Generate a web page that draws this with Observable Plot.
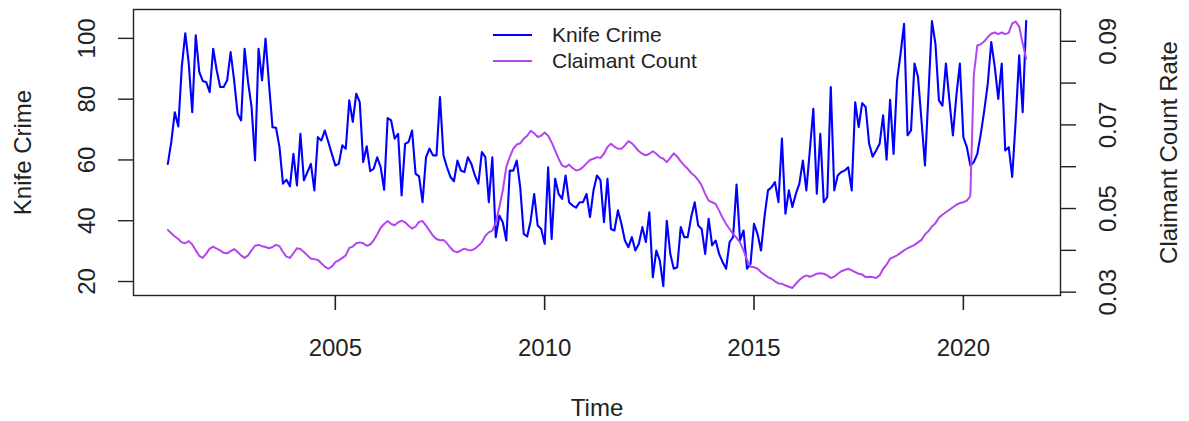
<!DOCTYPE html>
<html>
<head>
<meta charset="utf-8">
<script src="https://cdn.jsdelivr.net/npm/d3@7"></script>
<script src="https://cdn.jsdelivr.net/npm/@observablehq/plot@0.6"></script>
<style>
  html, body { margin: 0; padding: 0; background: #fff; }
  #wrap { position: relative; width: 1189px; height: 421px; font-family: "Liberation Sans", Arial, sans-serif; }
  #legend { position: absolute; left: 493px; top: 22px; font-size: 21px; color: #222; line-height: 26px; }
  #legend .row { display: flex; align-items: center; height: 26px; }
  #legend .sw { width: 39px; height: 2px; margin-right: 20px; }
</style>
</head>
<body>
<div id="wrap"><div id="legend"></div></div>
<script>
// ---- data (monthly, Jan 2001 .. Jul 2021) ----
const startYear = 2001;
const seriesNames = ["Knife Crime", "Claimant Count"];
const seriesColors = ["#0000FF", "#B445EE"];
const knifeCrime = [
  58.7, 66, 75.7, 71, 90.6, 101.7, 91.7, 75.7, 101, 89,
  86, 85.6, 82.3, 96.6, 89.5, 84, 84, 86.2, 95.5, 86.2,
  75.2, 73, 96.6, 85.6, 77.4, 59.8, 96.6, 86.2, 99.9, 85,
  70.8, 70.6, 64.2, 52.2, 53.5, 51.3, 62, 51.6, 68.6, 53.3,
  56, 58.7, 50, 67.5, 66.4, 69.7, 65.9, 62, 58.2, 58.7,
  64.8, 63.7, 79.6, 72.5, 81.8, 79, 59.3, 64.5, 56.3, 57.1,
  60.9, 57.6, 50.2, 73.8, 73, 67, 68.6, 48.3, 65.3, 65.9,
  69.7, 55.5, 54.6, 46.1, 60.9, 63.7, 61.5, 61.5, 80.7, 61.5,
  57.6, 54.4, 53, 59.8, 56.5, 56, 60.9, 58.7, 54.9, 52.2,
  62.6, 60.9, 46.1, 60.9, 34.6, 41.7, 39.5, 33.5, 56.5, 56.5,
  59.8, 51, 35.7, 34.8, 40, 48.8, 38.4, 37.3, 32.4, 57.6,
  34, 53.8, 48.8, 47.2, 54.9, 46.1, 45, 44.3, 46.1, 46.1,
  48.8, 41.2, 50, 54.9, 53.3, 39.5, 53.8, 37.3, 36.8, 43.4,
  39, 33.5, 31.3, 34.6, 30.2, 32.4, 37.9, 33, 42.8, 21.4,
  30.2, 26.9, 18.5, 40, 29.1, 24.2, 24.7, 37.9, 34.6, 34.6,
  41.2, 46.1, 38.4, 37.3, 29.1, 40.6, 31.9, 33.5, 29.1, 26.4,
  24.2, 33, 34.6, 51.9, 33.5, 36.8, 24.2, 25.8, 39, 35.7,
  30.2, 41.2, 50, 51, 52.7, 46.1, 67, 42.3, 50, 44.5,
  48.9, 52.2, 59.8, 50, 63.1, 76.8, 48.9, 68.6, 46.1, 47.8,
  84, 50, 54.9, 56, 56.5, 57.6, 50, 79, 70.8, 78.7,
  77.4, 65.3, 61.1, 63.1, 65.3, 74.7, 60.1, 79.8, 62, 86.2,
  94.9, 104.8, 68.1, 69.7, 91.7, 87.3, 73, 58.2, 81.8, 105.7,
  98.2, 79.6, 77.9, 91.7, 79.6, 68.1, 81.2, 91.7, 67.5, 64.2,
  58.2, 59.3, 62, 68.6, 76.3, 85.1, 98.8, 90.6, 80.1, 91.7,
  63.1, 64.2, 54.4, 73, 94.4, 75.7, 105.7
];
const claimantRate = [
  0.0449, 0.0441, 0.0433, 0.0427, 0.0419, 0.0417, 0.0422, 0.0414, 0.0400, 0.0387,
  0.0382, 0.0392, 0.0404, 0.0409, 0.0404, 0.0400, 0.0394, 0.0393, 0.0398, 0.0403,
  0.0396, 0.0388, 0.0382, 0.0388, 0.0400, 0.0411, 0.0413, 0.0410, 0.0408, 0.0405,
  0.0408, 0.0413, 0.0410, 0.0396, 0.0385, 0.0382, 0.0393, 0.0405, 0.0403, 0.0396,
  0.0388, 0.0380, 0.0379, 0.0377, 0.0369, 0.0361, 0.0356, 0.0361, 0.0372, 0.0376,
  0.0382, 0.0388, 0.0406, 0.0409, 0.0417, 0.0419, 0.0417, 0.0411, 0.0414, 0.0424,
  0.0438, 0.0454, 0.0463, 0.0470, 0.0463, 0.0460, 0.0467, 0.0471, 0.0467, 0.0459,
  0.0452, 0.0457, 0.0468, 0.0470, 0.0459, 0.0447, 0.0435, 0.0427, 0.0424, 0.0425,
  0.0417, 0.0406, 0.0398, 0.0395, 0.0400, 0.0404, 0.0401, 0.0400, 0.0404, 0.0411,
  0.0419, 0.0435, 0.0443, 0.0447, 0.0467, 0.0503, 0.0543, 0.0599, 0.0623, 0.0643,
  0.0653, 0.0656, 0.0667, 0.0674, 0.0686, 0.0680, 0.0671, 0.0674, 0.0682, 0.0674,
  0.0658, 0.0639, 0.0619, 0.0603, 0.0599, 0.0605, 0.0597, 0.0591, 0.0593, 0.0599,
  0.0608, 0.0616, 0.0619, 0.0623, 0.0621, 0.0631, 0.0647, 0.0655, 0.0648, 0.0643,
  0.0643, 0.0651, 0.0661, 0.0656, 0.0647, 0.0637, 0.0631, 0.0627, 0.0631, 0.0637,
  0.0631, 0.0623, 0.0619, 0.0611, 0.0621, 0.0632, 0.0624, 0.0613, 0.0603, 0.0595,
  0.0585, 0.0578, 0.0568, 0.0555, 0.0535, 0.0519, 0.0515, 0.0511, 0.0495, 0.0478,
  0.0463, 0.0451, 0.0439, 0.0430, 0.0419, 0.0400, 0.0377, 0.0361, 0.0360, 0.0356,
  0.0348, 0.0342, 0.0336, 0.0332, 0.0326, 0.0321, 0.0320, 0.0316, 0.0313, 0.0310,
  0.0320, 0.0329, 0.0336, 0.0340, 0.0337, 0.0340, 0.0344, 0.0345, 0.0344, 0.0340,
  0.0334, 0.0337, 0.0344, 0.0350, 0.0353, 0.0356, 0.0352, 0.0348, 0.0344, 0.0342,
  0.0336, 0.0337, 0.0336, 0.0334, 0.0340, 0.0356, 0.0366, 0.0380, 0.0384, 0.0388,
  0.0394, 0.0400, 0.0405, 0.0409, 0.0413, 0.0419, 0.0425, 0.0438, 0.0446, 0.0457,
  0.0465, 0.0478, 0.0485, 0.0491, 0.0497, 0.0503, 0.0509, 0.0513, 0.0515, 0.0519,
  0.0530, 0.0820, 0.0890, 0.0893, 0.0900, 0.0910, 0.0918, 0.0921, 0.0917, 0.0921,
  0.0917, 0.0920, 0.0943, 0.0947, 0.0935, 0.0895, 0.0858
];
const xTicks = [2005, 2010, 2015, 2020];
const leftTicks = [20, 40, 60, 80, 100];
const rightTicks = [0.03, 0.04, 0.05, 0.06, 0.07, 0.08, 0.09];
const rightLabels = [0.03, 0.05, 0.07, 0.09];
const xLabel = "Time", yLabel = "Knife Crime", y2Label = "Claimant Count Rate";

// ---- scales ----
const xDomain = [2000.18, 2022.32];
const yDomain = [15.4, 109.5];
const y2Domain = [0.0292, 0.0976];
const toLeft = d3.scaleLinear().domain(y2Domain).range(yDomain);

const knifeData = knifeCrime.map((v, i) => ({t: startYear + i / 12, v}));
const claimData = claimantRate.map((v, i) => ({t: startYear + i / 12, v}));

const ink = "#222";
const fs = 24;
const tickLen = 15;
const frameH = 421 - 9 - 126;

const chart = Plot.plot({
  width: 1189, height: 421,
  marginLeft: 133, marginRight: 129, marginTop: 9, marginBottom: 126,
  x: {domain: xDomain, axis: null},
  y: {domain: yDomain, axis: null},
  style: {fontFamily: "'Liberation Sans', Arial, sans-serif", fontSize: fs + "px", color: ink},
  marks: [
    Plot.line(knifeData, {x: "t", y: "v", stroke: seriesColors[0], strokeWidth: 2.1}),
    Plot.line(claimData, {x: "t", y: d => toLeft(d.v), stroke: seriesColors[1], strokeWidth: 2}),
    Plot.frame({stroke: ink, strokeWidth: 1.4}),
    // x axis: ticks hanging below the frame, labels, title
    Plot.tickX(xTicks, {x: d => d, insetTop: frameH, insetBottom: -tickLen, stroke: ink, strokeWidth: 1.6}),
    Plot.text(xTicks, {x: d => d, text: d => String(d), frameAnchor: "bottom", dy: 43, lineAnchor: "top", fontSize: fs, fill: ink}),
    Plot.text([xLabel], {frameAnchor: "bottom", dy: 113, fontSize: fs, lineAnchor: "middle", fill: ink}),
    // left axis
    Plot.axisY(leftTicks, {anchor: "left", tickSize: tickLen, tickFormat: () => "", stroke: ink, strokeWidth: 1.4, label: null}),
    Plot.text(leftTicks, {y: d => d, text: d => String(d), frameAnchor: "left", dx: -46, rotate: -90, textAnchor: "middle", lineAnchor: "middle", fontSize: fs, fill: ink}),
    Plot.text([yLabel], {frameAnchor: "left", dx: -110, rotate: -90, textAnchor: "middle", lineAnchor: "middle", fontSize: fs, fill: ink}),
    // right axis
    Plot.axisY(rightTicks.map(d => toLeft(d)), {anchor: "right", tickSize: tickLen, tickFormat: () => "", stroke: ink, strokeWidth: 1.4, label: null}),
    Plot.text(rightLabels, {y: d => toLeft(d), text: d => d.toFixed(2), frameAnchor: "right", dx: 47.5, rotate: -90, textAnchor: "middle", lineAnchor: "middle", fontSize: fs, fill: ink}),
    Plot.text([y2Label], {frameAnchor: "right", dx: 109, rotate: -90, textAnchor: "middle", lineAnchor: "middle", fontSize: fs, fill: ink})
  ]
});
const wrap = document.getElementById("wrap");
chart.style.position = "absolute";
chart.style.left = "0";
chart.style.top = "0";
wrap.insertBefore(chart, wrap.firstChild);

const legend = document.getElementById("legend");
seriesNames.forEach((name, i) => {
  const row = document.createElement("div");
  row.className = "row";
  const sw = document.createElement("div");
  sw.className = "sw";
  sw.style.background = seriesColors[i];
  const label = document.createElement("span");
  label.textContent = name;
  row.appendChild(sw);
  row.appendChild(label);
  legend.appendChild(row);
});
</script>
</body>
</html>
